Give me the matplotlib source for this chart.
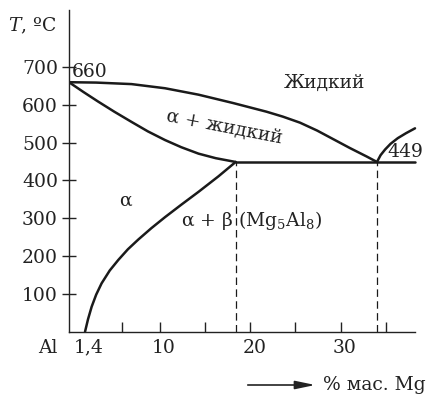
import matplotlib
matplotlib.use("Agg")
import matplotlib.pyplot as plt
from matplotlib.transforms import blended_transform_factory

plt.rcParams['font.family'] = ['DejaVu Serif']
plt.rcParams['mathtext.fontset'] = 'dejavuserif'

# Data (x: % mass Mg, y: T, °C)
liquidus_x = [0, 3.0, 6.9, 10.6, 14.3, 18.1, 21.8, 23.6, 25.5, 27.4, 29.2, 31.0, 32.9, 34.0]
liquidus_y = [660, 659, 655, 644, 627, 605, 582, 569, 553, 532, 509, 486, 463, 449]
solidus_x = [0, 1.6, 3.2, 5.0, 6.9, 8.7, 10.6, 12.4, 14.3, 16.2, 18.4]
solidus_y = [660, 634, 609, 582, 555, 530, 507, 488, 471, 459, 449]
solvus_x = [1.77, 2.1, 2.5, 3.0, 3.6, 4.5, 5.45, 6.5, 7.66, 9.1, 10.6, 12.4, 14.3, 16.5, 18.4]
solvus_y = [0, 33, 66, 98, 128, 162, 190, 218, 244, 274, 303, 336, 370, 411, 449]
liq2_x = [34.0, 34.4, 34.9, 35.5, 36.3, 37.2, 38.2]
liq2_y = [449, 467, 482, 497, 512, 525, 538]
eutectic_T = 449
eutectic_x = [18.4, 38.2]
dashed_x = [18.4, 34.0]
yticks = [100, 200, 300, 400, 500, 600, 700]
xticks = [5.8, 10, 15, 20, 25, 30, 35]
xlabels = {10: '10', 20: '20', 30: '30'}

W, H = 429, 395
fig = plt.figure(figsize=(W / 100, H / 100), dpi=100)
ax = fig.add_axes([69 / W, 1 - 331.7 / H, (415 - 69) / W, (331.7 - 10) / H])
ax.set_xlim(0, 38.2)
ax.set_ylim(0, 851)
for s in ['top', 'right']:
    ax.spines[s].set_visible(False)
for s in ['left', 'bottom']:
    ax.spines[s].set_linewidth(1.0)
    ax.spines[s].set_color('#222222')

lw = 1.8
col = '#1a1a1a'
kw = dict(color=col, lw=lw, solid_capstyle='round', solid_joinstyle='round')
ax.plot(liquidus_x, liquidus_y, **kw)
ax.plot(solidus_x, solidus_y, **kw)
ax.plot(solvus_x, solvus_y, **kw)
ax.plot(liq2_x, liq2_y, clip_on=False, **kw)
ax.plot(eutectic_x, [eutectic_T, eutectic_T], clip_on=False, **kw)
for dx in dashed_x:
    ax.plot([dx, dx], [0, eutectic_T], color=col, lw=0.9, dashes=(6, 3.5))

ax.set_yticks(yticks)
ax.set_yticklabels([str(v) for v in yticks])
ax.tick_params(axis='y', direction='inout', length=10, width=1.0, colors='#222222',
               labelsize=13.5, pad=3)
ax.set_xticks(xticks)
ax.set_xticklabels([''] * len(xticks))
ax.tick_params(axis='x', direction='in', length=7, width=1.0, colors='#222222')

tc = '#222222'
fs = 13.5
trx = blended_transform_factory(ax.transData, ax.transAxes)
for v, lab in xlabels.items():
    ax.text(v + 0.45, -0.05, lab, transform=trx, ha='center', va='center', fontsize=fs, color=tc)
ax.text(2.2, -0.05, '1,4', transform=trx, ha='center', va='center', fontsize=fs, color=tc)
fig.text(48 / W, 1 - 348 / H, 'Al', ha='center', va='center', fontsize=fs, color=tc)
fig.text(32 / W, 1 - 26 / H, '$T$, ºC', ha='center', va='center', fontsize=fs, color=tc)

ax.text(0.35, 662, '660', ha='left', va='bottom', fontsize=fs, color=tc)
ax.text(35.1, 452, '449', ha='left', va='bottom', fontsize=fs, color=tc, clip_on=False)
ax.text(28.2, 658, 'Жидкий', ha='center', va='center', fontsize=fs, color=tc)
ax.text(17.1, 541, 'α + жидкий', ha='center', va='center', fontsize=fs, color=tc,
        rotation=-11, rotation_mode='anchor')
ax.text(6.2, 346, 'α', ha='center', va='center', fontsize=fs, color=tc)
ax.text(20.1, 295, 'α + β (Mg$_5$Al$_8$)', ha='center', va='center', fontsize=fs, color=tc)

# arrow and axis title
ax.annotate('', xy=(318 / W, 1 - 385 / H), xytext=(245 / W, 1 - 385 / H),
            xycoords='figure fraction', textcoords='figure fraction',
            arrowprops=dict(arrowstyle='-|>,head_length=1.2,head_width=0.25', color=tc, lw=1.2))
fig.text(323 / W, 1 - 385 / H, '% мас. Mg', ha='left', va='center', fontsize=fs, color=tc)

fig.savefig('out.png', dpi=100)
